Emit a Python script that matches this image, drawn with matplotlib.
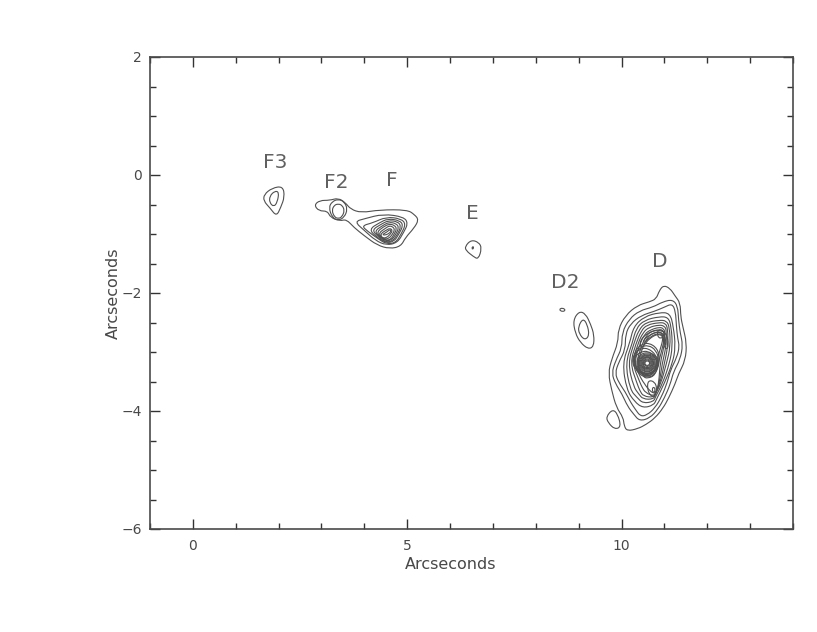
import matplotlib
matplotlib.use('Agg')
import matplotlib.pyplot as plt
from matplotlib.patches import PathPatch
from matplotlib.path import Path
from matplotlib.ticker import MultipleLocator

# labels of the knots
knot_names = ['F3', 'F2', 'F', 'E', 'D2', 'D']
knot_x = [1.91, 3.34, 4.64, 6.51, 8.68, 10.9]
knot_y = [0.22, -0.12, -0.10, -0.66, -1.83, -1.46]

# contours, arcsec, each one closed
f3_contours = [
    [(1.66, -0.33), (1.85, -0.22), (2.10, -0.19), (2.14, -0.37), (2.05, -0.55), (1.95, -0.70), (1.80, -0.56), (1.65, -0.44)],
    [(1.79, -0.36), (1.91, -0.27), (2.01, -0.29), (1.97, -0.46), (1.89, -0.54), (1.79, -0.47)],
]
f2_contours = [
    [(3.17, -0.55), (3.25, -0.45), (3.39, -0.41), (3.53, -0.45), (3.61, -0.58), (3.53, -0.72), (3.39, -0.77), (3.25, -0.72)],
    [(3.24, -0.60), (3.30, -0.51), (3.39, -0.49), (3.48, -0.51), (3.54, -0.60), (3.48, -0.71), (3.39, -0.74), (3.30, -0.71)],
]
f_contours = [
    [(2.83, -0.51), (2.96, -0.43), (3.19, -0.43), (3.39, -0.39), (3.56, -0.47), (3.68, -0.58), (3.93, -0.64), (4.36, -0.59),
     (5.00, -0.59), (5.17, -0.67), (5.27, -0.76), (5.16, -0.90), (4.96, -1.06), (4.85, -1.21), (4.59, -1.25), (4.30, -1.19),
     (4.00, -1.03), (3.76, -0.89), (3.58, -0.75), (3.43, -0.78), (3.21, -0.72), (3.14, -0.61), (2.94, -0.61)],
    [(3.77, -0.79), (4.01, -0.74), (4.44, -0.66), (4.92, -0.71), (5.02, -0.82), (4.92, -0.97), (4.77, -1.15), (4.51, -1.19), (4.26, -1.11), (4.00, -0.94)],
    [(3.94, -0.86), (4.20, -0.81), (4.51, -0.71), (4.85, -0.74), (4.97, -0.83), (4.86, -1.00), (4.73, -1.15), (4.51, -1.17), (4.30, -1.07), (4.07, -0.95)],
    [(4.11, -0.92), (4.35, -0.81), (4.55, -0.74), (4.82, -0.77), (4.91, -0.85), (4.80, -1.01), (4.69, -1.13), (4.50, -1.15), (4.28, -1.05)],
    [(4.18, -0.93), (4.38, -0.84), (4.56, -0.77), (4.78, -0.79), (4.86, -0.87), (4.77, -1.01), (4.66, -1.12), (4.50, -1.14), (4.31, -1.04)],
    [(4.24, -0.95), (4.42, -0.86), (4.57, -0.80), (4.74, -0.82), (4.81, -0.89), (4.73, -1.01), (4.64, -1.10), (4.50, -1.12), (4.34, -1.04)],
    [(4.29, -0.97), (4.44, -0.88), (4.58, -0.83), (4.70, -0.85), (4.76, -0.91), (4.69, -1.01), (4.62, -1.09), (4.50, -1.11), (4.37, -1.04)],
    [(4.34, -0.98), (4.48, -0.91), (4.58, -0.86), (4.67, -0.88), (4.71, -0.93), (4.65, -1.01), (4.58, -1.07), (4.48, -1.09), (4.39, -1.05)],
    [(4.39, -0.99), (4.50, -0.94), (4.60, -0.90), (4.66, -0.94), (4.60, -1.01), (4.52, -1.06), (4.44, -1.07), (4.39, -1.04)],
    [(4.42, -1.01), (4.52, -0.97), (4.60, -0.92), (4.63, -0.95), (4.56, -1.00), (4.47, -1.02)],
]
e_contours = [
    [(6.35, -1.21), (6.49, -1.10), (6.67, -1.14), (6.74, -1.24), (6.66, -1.43), (6.54, -1.38), (6.37, -1.28)],
    [(6.51, -1.23), (6.54, -1.21), (6.55, -1.24), (6.52, -1.26)],
]
d2_contours = [
    [(8.54, -2.28), (8.62, -2.25), (8.70, -2.29), (8.62, -2.32)],
    [(8.87, -2.46), (9.01, -2.31), (9.16, -2.35), (9.28, -2.53), (9.36, -2.71), (9.35, -2.91), (9.22, -2.95), (9.04, -2.84), (8.92, -2.68)],
    [(8.99, -2.57), (9.10, -2.43), (9.20, -2.53), (9.25, -2.72), (9.14, -2.80), (9.01, -2.69)],
]
d_sw_contour = [(9.64, -4.10), (9.79, -3.97), (9.91, -4.05), (9.99, -4.27), (9.84, -4.31), (9.69, -4.20)]
d_contours = [
    [(10.98, -1.87), (11.13, -1.92), (11.25, -2.05), (11.37, -2.17), (11.38, -2.40), (11.43, -2.57), (11.52, -2.85), (11.49, -3.14),
     (11.33, -3.37), (11.25, -3.54), (11.10, -3.78), (10.97, -3.95), (10.78, -4.12), (10.57, -4.23), (10.38, -4.30), (10.13, -4.34),
     (10.06, -4.25), (10.04, -4.11), (9.88, -3.94), (9.77, -3.65), (9.69, -3.36), (9.77, -3.12), (9.92, -2.84), (9.92, -2.62),
     (10.09, -2.38), (10.37, -2.21), (10.65, -2.15), (10.81, -2.10), (10.88, -1.96)],
    [(11.19, -2.11), (11.31, -2.22), (11.33, -2.46), (11.37, -2.68), (11.43, -2.88), (11.37, -3.12), (11.21, -3.34), (11.14, -3.54),
     (11.00, -3.78), (10.85, -3.97), (10.66, -4.12), (10.42, -4.17), (10.29, -4.06), (10.14, -3.92), (10.01, -3.71), (9.86, -3.54),
     (9.77, -3.36), (9.86, -3.15), (10.01, -2.93), (10.01, -2.67), (10.18, -2.44), (10.42, -2.30), (10.73, -2.24), (10.96, -2.15)],
    [(11.18, -2.18), (11.26, -2.31), (11.28, -2.57), (11.31, -2.77), (11.35, -2.91), (11.29, -3.09), (11.14, -3.31), (11.07, -3.51),
     (10.94, -3.75), (10.78, -3.95), (10.59, -4.07), (10.44, -4.09), (10.32, -3.97), (10.21, -3.85), (10.09, -3.68), (9.93, -3.51),
     (9.85, -3.36), (9.93, -3.18), (10.09, -2.96), (10.09, -2.70), (10.21, -2.52), (10.46, -2.38), (10.77, -2.31), (11.00, -2.24)],
    [(10.88, -2.33), (11.13, -2.34), (11.21, -2.57), (11.26, -2.91), (11.19, -3.19), (11.00, -3.53), (10.81, -3.81), (10.75, -3.90),
     (10.50, -3.95), (10.30, -3.84), (10.12, -3.64), (10.02, -3.19), (10.19, -2.85), (10.28, -2.57), (10.53, -2.40)],
    [(10.88, -2.40), (11.09, -2.41), (11.16, -2.57), (11.19, -2.91), (11.12, -3.19), (10.96, -3.53), (10.79, -3.76), (10.75, -3.84),
     (10.50, -3.87), (10.36, -3.77), (10.20, -3.64), (10.09, -3.19), (10.25, -2.85), (10.34, -2.60), (10.53, -2.46)],
    [(10.88, -2.46), (11.05, -2.47), (11.12, -2.58), (11.14, -2.91), (11.05, -3.19), (10.92, -3.53), (10.79, -3.71), (10.75, -3.80),
     (10.50, -3.80), (10.40, -3.71), (10.28, -3.59), (10.15, -3.19), (10.29, -2.85), (10.40, -2.63), (10.56, -2.50)],
    [(10.88, -2.50), (11.02, -2.51), (11.08, -2.60), (11.08, -2.91), (11.00, -3.19), (10.90, -3.53), (10.79, -3.69), (10.75, -3.77),
     (10.51, -3.75), (10.43, -3.66), (10.36, -3.53), (10.20, -3.19), (10.34, -2.85), (10.46, -2.64), (10.59, -2.54)],
    [(10.88, -2.54), (11.00, -2.56), (11.05, -2.63), (11.04, -2.91), (10.95, -3.19), (10.88, -3.53), (10.81, -3.67), (10.75, -3.75),
     (10.56, -3.69), (10.48, -3.60), (10.42, -3.50), (10.25, -3.19), (10.38, -2.86), (10.50, -2.67), (10.64, -2.58)],
    [(10.88, -2.58), (10.98, -2.60), (11.02, -2.68), (10.99, -2.92), (10.90, -3.19), (10.87, -3.52), (10.82, -3.66), (10.75, -3.71),
     (10.61, -3.62), (10.53, -3.53), (10.46, -3.46), (10.29, -3.19), (10.42, -2.88), (10.54, -2.69), (10.69, -2.62)],
    [(10.88, -2.62), (10.98, -2.64), (11.01, -2.74), (10.95, -2.94), (10.86, -3.19), (10.79, -3.39), (10.61, -3.45), (10.50, -3.42),
     (10.34, -3.19), (10.46, -2.91), (10.57, -2.72), (10.73, -2.64)],
    [(10.86, -2.66), (10.95, -2.68), (10.97, -2.78), (10.90, -2.96), (10.82, -3.15), (10.76, -3.35), (10.60, -3.42), (10.48, -3.38),
     (10.37, -3.19), (10.48, -2.95), (10.60, -2.75), (10.74, -2.68)],
]
# bent band of the ridge north of the peak
d_ridge_contours = [
    [(10.42, -2.82), (10.59, -2.68), (10.85, -2.62), (11.05, -2.68), (11.10, -2.88), (11.05, -2.97), (10.98, -2.88), (10.98, -2.74),
     (10.85, -2.69), (10.65, -2.77), (10.53, -2.88), (10.46, -2.94)],
    [(10.50, -2.81), (10.65, -2.71), (10.86, -2.65), (11.01, -2.71), (11.04, -2.88), (11.01, -2.88), (10.97, -2.72), (10.86, -2.68),
     (10.67, -2.74), (10.53, -2.85)],
]
# south lobe and north-east hole
d_lobe_contours = [
    [(10.62, -3.48), (10.77, -3.50), (10.83, -3.62), (10.78, -3.76), (10.67, -3.74), (10.60, -3.62)],
    [(10.71, -3.62), (10.76, -3.59), (10.79, -3.65), (10.74, -3.70)],
    [(10.85, -2.62), (10.97, -2.63), (11.00, -2.72), (10.91, -2.78), (10.83, -2.72)],
]
# arm going west out of the peak, then the dense rings of the peak at 10.6,-3.2
d_peak_contours = [
    [(10.90, -3.14), (10.84, -2.94), (10.63, -2.84), (10.44, -2.88), (10.30, -3.00), (10.27, -3.20), (10.40, -3.38), (10.62, -3.44), (10.80, -3.37)],
    [(10.88, -3.15), (10.81, -2.97), (10.62, -2.88), (10.44, -2.92), (10.32, -3.03), (10.30, -3.20), (10.42, -3.36), (10.62, -3.42), (10.78, -3.35)],
    [(10.88, -3.22), (10.81, -3.05), (10.61, -2.93), (10.42, -2.95), (10.28, -3.05), (10.25, -3.19), (10.34, -3.30), (10.50, -3.39), (10.73, -3.37)],
    [(10.85, -3.21), (10.78, -3.07), (10.61, -2.98), (10.45, -3.00), (10.32, -3.07), (10.29, -3.19), (10.37, -3.29), (10.51, -3.37), (10.71, -3.36)],
    [(10.86, -3.19), (10.79, -3.05), (10.60, -3.00), (10.41, -3.05), (10.34, -3.19), (10.41, -3.33), (10.60, -3.39), (10.79, -3.33)],
    [(10.83, -3.19), (10.77, -3.07), (10.60, -3.02), (10.43, -3.07), (10.37, -3.19), (10.43, -3.32), (10.60, -3.37), (10.77, -3.32)],
    [(10.80, -3.19), (10.75, -3.08), (10.60, -3.04), (10.45, -3.08), (10.40, -3.19), (10.45, -3.30), (10.60, -3.35), (10.75, -3.30)],
    [(10.78, -3.19), (10.73, -3.09), (10.60, -3.05), (10.47, -3.09), (10.42, -3.19), (10.47, -3.29), (10.60, -3.34), (10.73, -3.29)],
    [(10.76, -3.19), (10.71, -3.10), (10.60, -3.07), (10.49, -3.10), (10.44, -3.19), (10.49, -3.28), (10.60, -3.32), (10.71, -3.28)],
    [(10.74, -3.19), (10.70, -3.11), (10.60, -3.08), (10.50, -3.11), (10.46, -3.19), (10.50, -3.27), (10.60, -3.30), (10.70, -3.27)],
    [(10.72, -3.19), (10.68, -3.12), (10.60, -3.09), (10.52, -3.12), (10.48, -3.19), (10.52, -3.26), (10.60, -3.29), (10.68, -3.26)],
    [(10.70, -3.19), (10.67, -3.14), (10.60, -3.11), (10.53, -3.14), (10.50, -3.19), (10.53, -3.25), (10.60, -3.27), (10.67, -3.25)],
    [(10.68, -3.19), (10.65, -3.15), (10.60, -3.13), (10.55, -3.15), (10.52, -3.19), (10.55, -3.23), (10.60, -3.25), (10.65, -3.23)],
    [(10.66, -3.19), (10.64, -3.16), (10.60, -3.15), (10.56, -3.16), (10.54, -3.19), (10.56, -3.22), (10.60, -3.23), (10.64, -3.22)],
]

line_col = '#505050'
text_col = '#484848'


def closed_curve(c):
    # quadratic pieces through the mid points, so the contour does not look cut
    n = len(c)
    mid = [((c[i][0] + c[(i+1) % n][0]) / 2, (c[i][1] + c[(i+1) % n][1]) / 2) for i in range(n)]
    verts = [mid[-1]]
    codes = [Path.MOVETO]
    for i in range(n):
        verts += [c[i], mid[i]]
        codes += [Path.CURVE3, Path.CURVE3]
    return Path(verts, codes)


plt.rcParams['font.family'] = 'DejaVu Sans'
fig = plt.figure(figsize=(8.17, 6.32), dpi=100)
ax = fig.add_axes([150/817, 1-529/632, 643/817, 472/632])

all_contours = f3_contours + f2_contours + f_contours + e_contours + d2_contours + [d_sw_contour] \
    + d_contours + d_ridge_contours + d_lobe_contours + d_peak_contours
for c in all_contours:
    ax.add_patch(PathPatch(closed_curve(c), fc='none', ec=line_col, lw=0.8))

for name, x, y in zip(knot_names, knot_x, knot_y):
    ax.text(x, y, name, fontsize=14.5, color='#606060', ha='center', va='center')

ax.set_xlim(-1, 14)
ax.set_ylim(-6, 2)
ax.xaxis.set_major_locator(MultipleLocator(5))
ax.xaxis.set_minor_locator(MultipleLocator(1))
ax.yaxis.set_major_locator(MultipleLocator(2))
ax.yaxis.set_minor_locator(MultipleLocator(0.5))
ax.tick_params(which='major', direction='in', top=True, right=True, length=7, width=1, color='#333333',
               labelsize=10, labelcolor=text_col)
ax.tick_params(which='minor', direction='in', top=True, right=True, length=4.5, width=1, color='#333333')
ax.tick_params(axis='x', which='major', pad=7)
ax.tick_params(axis='y', which='major', pad=6)
for s in ax.spines.values():
    s.set_linewidth(1.2)
    s.set_color('#4a4a4a')
ax.set_xlabel('Arcseconds', fontsize=11.5, color=text_col)
ax.set_ylabel('Arcseconds', fontsize=11.5, color=text_col)
ax.xaxis.set_label_coords(0.468, -0.06)
ax.yaxis.set_label_coords(-0.045, 0.5)
ax.set_yticks([-6, -4, -2, 0, 2])
ax.set_yticklabels(['\u22126', '\u22124', '\u22122', '0', '2'])

fig.savefig('out.png', dpi=100)
